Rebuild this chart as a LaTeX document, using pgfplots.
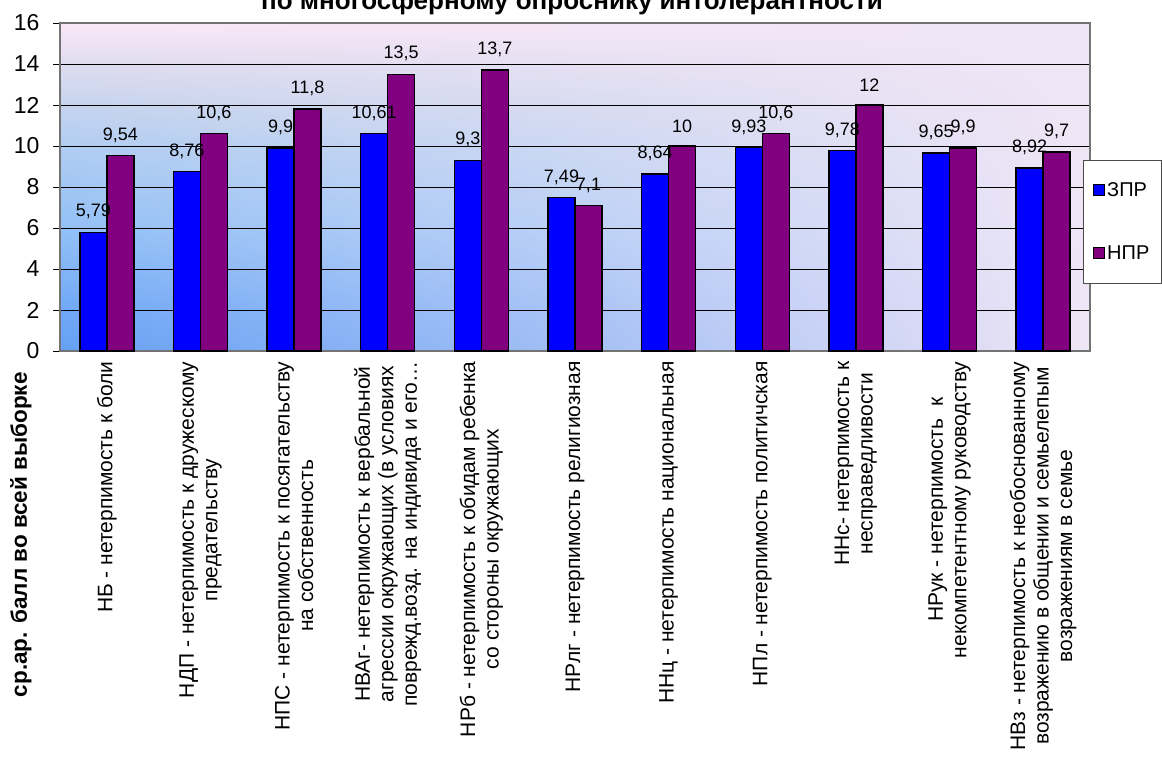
\documentclass[border=0pt]{standalone}
\usepackage{fontspec}
\setmainfont{Liberation Sans}
\usepackage{pgfplots}
\usepackage{pgfplotstable}
\pgfplotsset{compat=1.18}
\usetikzlibrary{fadings}
\definecolor{zpr}{RGB}{0,0,255}
\definecolor{npr}{RGB}{128,0,128}
\definecolor{bg0}{HTML}{64A0F4}
\definecolor{bg1}{HTML}{70A8F6}
\definecolor{bg2}{HTML}{92C0F6}
\definecolor{bg3}{HTML}{B0CDF2}
\definecolor{bg4}{HTML}{C6D4EE}
\definecolor{bg5}{HTML}{DEDCF0}
\definecolor{bg6}{HTML}{FBE8F7}
\definecolor{bgR}{HTML}{F0E6F6}
\pgfdeclareverticalshading{plotbg}{100bp}{color(0bp)=(bg0); color(25bp)=(bg0); color(31bp)=(bg1); color(43.5bp)=(bg2); color(56bp)=(bg3); color(62.5bp)=(bg4); color(68.5bp)=(bg5); color(75bp)=(bg6); color(100bp)=(bg6)}
\tikzfading[name=fadeh, left color=transparent!100, right color=transparent!0, middle color=transparent!55]

\pgfplotstableread{
x zpr npr
0 5.79 9.54
1 8.76 10.6
2 9.9 11.8
3 10.61 13.5
4 9.3 13.7
5 7.49 7.1
6 8.64 10
7 9.93 10.6
8 9.78 12
9 9.65 9.9
10 8.92 9.7
}\datatable

\begin{document}
\begin{tikzpicture}
\begin{axis}[
  at={(60pt,407pt)}, anchor=south west,
  scale only axis, width=1030pt, height=328pt,
  xmin=-0.5, xmax=10.5, ymin=0, ymax=16,
  ybar=0pt, bar width=27pt,
  ytick={0,2,...,16},
  ymajorgrids, grid style={black, line width=0.8pt},
  axis line style={black!55, line width=1.2pt},
  tick align=outside, ytick pos=left, xtick pos=bottom,
  major tick length=7pt,
  tick style={black, line width=1pt},
  /pgf/number format/assume math mode=true,
  yticklabel style={font=\fontsize{23}{23}\selectfont, xshift=-10pt},
  xtick={0,...,10},
  xticklabels={
    {НБ - нетерпимость к боли},
    {НДП - нетерпимость к дружескому\\предательству},
    {НПС - нетерпимость к посягательству\\на собственность},
    {НВАг- нетерпимость к вербальной\\агрессии окружающих (в условиях\\поврежд.возд. на индивида и его…},
    {НРб - нетерпимость к обидам ребенка\\со стороны окружающих},
    {НРлг - нетерпимость религиозная},
    {ННц - нетерпимость национальная},
    {НПл - нетерпимость политичская},
    {ННс- нетерпимость к\\несправедливости},
    {НРук - нетерпимость \ к\\некомпетентному руководству},
    {НВз - нетерпимость к необоснованному\\возражению в общении и семьелепым\\возражениям в семье}
  },
  xticklabel style={rotate=90, anchor=east, align=center, font=\fontsize{21}{23.5}\selectfont},
  xtick style={draw=none},
  extra x ticks={-0.5,0.5,1.5,2.5,3.5,4.5,5.5,6.5,7.5,8.5,9.5,10.5},
  extra x tick labels={},
  extra x tick style={major tick length=407pt, tick style={draw=black, line width=1pt}, grid=none},
  axis background/.style={shade, shading=plotbg, postaction={fill=bgR, path fading=fadeh}},
  nodes near coords={\pgfmathprintnumber[use comma]{\pgfplotspointmeta}},
  every node near coord/.append style={font=\fontsize{18}{18}\selectfont, black, yshift=9pt},
  legend style={at={(rel axis cs:0.993,0.582)}, anchor=north west, draw=black!70, fill=white,
    font=\fontsize{20}{20}\selectfont, row sep=44pt, inner xsep=10pt, inner ysep=20pt,
    nodes={inner sep=2pt}},
  legend cell align=left,
  ylabel={ср.ар. балл во всей выборке},
  ylabel style={at={(rel axis cs:-0.038,-0.56)}, anchor=center, font=\fontsize{22.5}{22.5}\selectfont\bfseries},
]
\addplot[fill=zpr, draw=black, line width=1.5pt,
  legend image code/.code={\draw[fill=zpr, draw=black, line width=1.2pt] (0pt,-5.5pt) rectangle (11pt,5.5pt);}]
  table[x=x, y=zpr] {\datatable};
\addplot[fill=npr, draw=black, line width=1.5pt,
  legend image code/.code={\draw[fill=npr, draw=black, line width=1.2pt] (0pt,-5.5pt) rectangle (11pt,5.5pt);}]
  table[x=x, y=npr] {\datatable};
\legend{ЗПР, НПР}
\end{axis}
\node[anchor=base, font=\fontsize{26}{26}\selectfont\bfseries] at (572pt,748pt) {по многосферному опроснику интолерантности};
\pgfresetboundingbox
\path[use as bounding box] (0,0) rectangle (1162pt,758pt);
\end{tikzpicture}
\end{document}
